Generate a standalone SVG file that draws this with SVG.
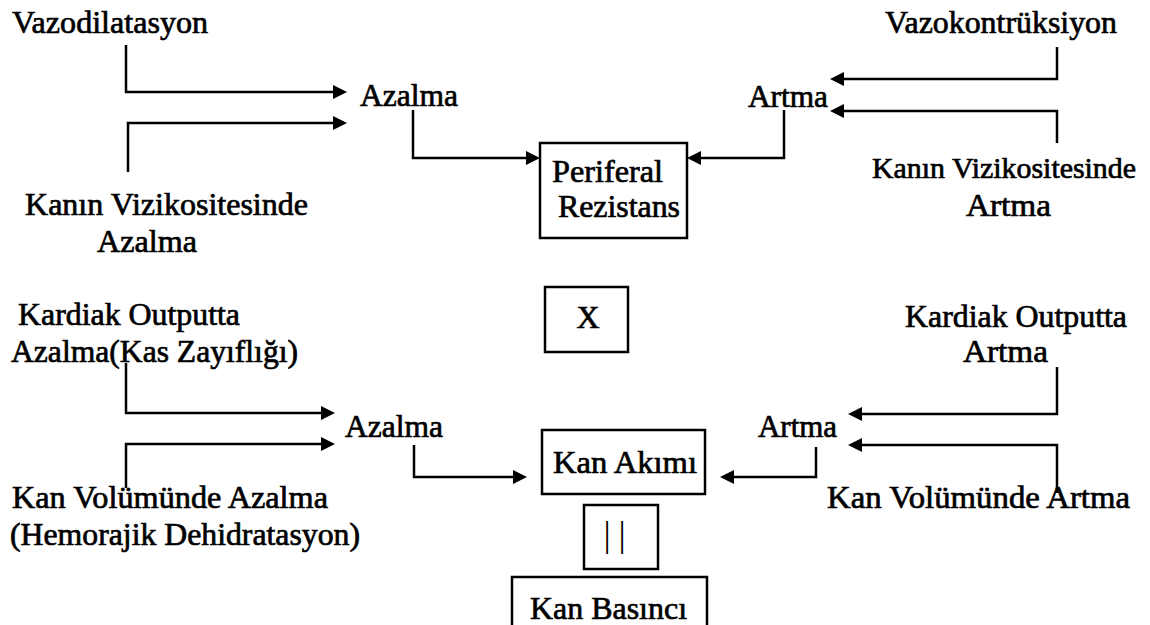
<svg xmlns="http://www.w3.org/2000/svg" width="1150" height="625" viewBox="0 0 1150 625">
<style>
text{font-family:'Liberation Serif','DejaVu Serif',serif;font-size:32px;fill:#000;stroke:#000;stroke-width:0.7;}
.box{fill:none;stroke:#000;stroke-width:2.5;}
.c{fill:none;stroke:#000;stroke-width:2.5;marker-end:url(#ah);}
</style>
<defs>
<marker id="ah" markerUnits="userSpaceOnUse" markerWidth="14" markerHeight="14" refX="10" refY="7" orient="auto">
<path d="M0,0 L14,7 L0,14 Z" fill="#000"/>
</marker>
</defs>
<rect width="1150" height="625" fill="#fff"/>

<g id="vazodilatasyon"><text x="12" y="33" textLength="196" lengthAdjust="spacingAndGlyphs">Vazodilatasyon</text></g>
<g id="kanin-viz-azalma"><text x="25" y="215" textLength="283" lengthAdjust="spacingAndGlyphs">Kanın Vizikositesinde</text><text x="97" y="252" textLength="100" lengthAdjust="spacingAndGlyphs">Azalma</text></g>
<g id="azalma-top"><text x="360" y="106" textLength="98" lengthAdjust="spacingAndGlyphs">Azalma</text></g>
<g id="periferal"><rect class="box" x="540" y="143" width="147" height="95"/><text x="552" y="182" textLength="111" lengthAdjust="spacingAndGlyphs">Periferal</text><text x="558" y="217" textLength="122" lengthAdjust="spacingAndGlyphs">Rezistans</text></g>
<g id="artma-top"><text x="748" y="107" textLength="80" lengthAdjust="spacingAndGlyphs">Artma</text></g>
<g id="vazokontruksiyon"><text x="885" y="33" textLength="232" lengthAdjust="spacingAndGlyphs">Vazokontrüksiyon</text></g>
<g id="kanin-viz-artma"><text x="872" y="178" textLength="264" lengthAdjust="spacingAndGlyphs" style="font-size:30px">Kanın Vizikositesinde</text><text x="966" y="216" textLength="85" lengthAdjust="spacingAndGlyphs">Artma</text></g>

<g id="x-box"><rect class="box" x="545" y="287" width="83" height="65"/><text x="588" y="328" text-anchor="middle">X</text></g>

<g id="kardiak-azalma"><text x="18" y="325" textLength="222" lengthAdjust="spacingAndGlyphs">Kardiak Outputta</text><text x="11" y="362" textLength="287" lengthAdjust="spacingAndGlyphs">Azalma(Kas Zayıflığı)</text></g>
<g id="kanvol-azalma"><text x="12" y="508" textLength="316" lengthAdjust="spacingAndGlyphs">Kan Volümünde Azalma</text><text x="10" y="545" textLength="350" lengthAdjust="spacingAndGlyphs">(Hemorajik Dehidratasyon)</text></g>
<g id="azalma-bottom"><text x="345" y="437" textLength="98" lengthAdjust="spacingAndGlyphs">Azalma</text></g>
<g id="kan-akimi"><rect class="box" x="542" y="430" width="163" height="64"/><text x="553" y="473" textLength="144" lengthAdjust="spacingAndGlyphs">Kan Akımı</text></g>
<g id="esittir"><rect class="box" x="584" y="505" width="74" height="64"/><text x="603.4 618.4" y="546" style="font-size:36px;stroke-width:0">||</text></g>
<g id="kan-basinci"><path class="box" d="M512,625 V577 H707 V625"/><text x="530" y="619" textLength="157" lengthAdjust="spacingAndGlyphs">Kan Basıncı</text></g>
<g id="artma-bottom"><text x="758" y="437" textLength="79" lengthAdjust="spacingAndGlyphs">Artma</text></g>
<g id="kardiak-artma"><text x="905" y="327" textLength="222" lengthAdjust="spacingAndGlyphs">Kardiak Outputta</text><text x="963" y="362" textLength="85" lengthAdjust="spacingAndGlyphs">Artma</text></g>
<g id="kanvol-artma"><text x="827" y="508" textLength="303" lengthAdjust="spacingAndGlyphs">Kan Volümünde Artma</text></g>

<g id="connectors">
<path class="c" d="M126,45 V92 H343"/>
<path class="c" d="M128,172 V123 H343"/>
<path class="c" d="M413,110 V158 H536"/>
<path class="c" d="M784,110 V158 H691"/>
<path class="c" d="M1057,47 V79 H834"/>
<path class="c" d="M1057,143 V111 H834"/>
<path class="c" d="M126,363 V413 H331"/>
<path class="c" d="M126,488 V444 H331"/>
<path class="c" d="M414,445 V477 H523"/>
<path class="c" d="M816,447 V477 H724"/>
<path class="c" d="M1057,367 V414 H852"/>
<path class="c" d="M1057,493 V445 H852"/>
</g>
</svg>
